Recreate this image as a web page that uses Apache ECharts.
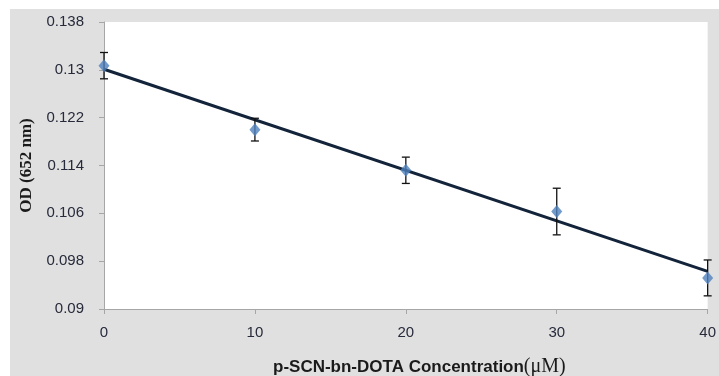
<!DOCTYPE html>
<html>
<head>
<meta charset="utf-8">
<script src="https://cdn.jsdelivr.net/npm/echarts@6/dist/echarts.min.js"></script>
<style>
html,body{margin:0;padding:0;background:#ffffff;width:719px;height:376px;overflow:hidden;}
#chart{position:absolute;left:10px;top:9px;width:709px;height:367px;}
</style>
</head>
<body>
<div id="chart"></div>
<script>
// Data
var concentrations = [0, 10, 20, 30, 40];          // µM
var odValues = [0.1307, 0.1200, 0.1132, 0.1063, 0.0952];
var odErrors = [0.0022, 0.0019, 0.0022, 0.0039, 0.0030];
var trendX = [0, 40];
var trendY = [0.1301, 0.0963];
var xTitle = 'p-SCN-bn-DOTA Concentration';
var xTitleUnit = '(\u03bcM)';
var yTitle = 'OD (652 nm)';

var points = concentrations.map(function (c, i) { return [c, odValues[i]]; });
var errRows = concentrations.map(function (c, i) { return [c, odValues[i] - odErrors[i], odValues[i] + odErrors[i]]; });
var trend = trendX.map(function (x, i) { return [x, trendY[i]]; });

var chart = echarts.init(document.getElementById('chart'), null, {renderer: 'canvas'});
var labelColor = '#262a3a';
var axisColor = '#a6a6a6';

chart.setOption({
  animation: false,
  backgroundColor: '#e0e0e0',
  grid: {
    left: 94, right: 7, top: 13, bottom: 67,
    show: true, backgroundColor: '#ffffff', borderWidth: 0
  },
  xAxis: {
    type: 'value', min: 0, max: 40, interval: 10,
    axisLine: {lineStyle: {color: axisColor, width: 1}},
    axisTick: {show: true, length: 5, lineStyle: {color: axisColor}},
    splitLine: {show: false},
    axisLabel: {color: labelColor, fontFamily: 'Liberation Sans', fontSize: 15, margin: 16}
  },
  yAxis: {
    type: 'value', min: 0.09, max: 0.138, interval: 0.008,
    axisLine: {show: true, lineStyle: {color: axisColor, width: 1}},
    axisTick: {show: true, length: 5, lineStyle: {color: axisColor}},
    splitLine: {show: false},
    axisLabel: {
      color: labelColor, fontFamily: 'Liberation Sans', fontSize: 15, margin: 20,
      formatter: function (v) { return String(parseFloat(v.toFixed(3))); }
    },
    name: yTitle, nameLocation: 'middle', nameRotate: 90, nameGap: 67,
    nameTextStyle: {fontFamily: 'Liberation Serif', fontWeight: 'bold', fontSize: 17, color: '#1a1a1a'}
  },
  graphic: [{
    type: 'text',
    left: 263, top: 348,
    style: {
      text: '{a|' + xTitle + '}{b|' + xTitleUnit + '}',
      rich: {
        a: {fontFamily: 'Liberation Sans', fontWeight: 'bold', fontSize: 17, fill: '#1a1a1a'},
        b: {fontFamily: 'Liberation Serif', fontSize: 20, fill: '#1a1a1a'}
      }
    }
  }],
  series: [
    {
      type: 'line', data: trend, showSymbol: false, symbol: 'none',
      lineStyle: {color: '#13243a', width: 3}, z: 2, silent: true
    },
    {
      type: 'custom', data: errRows, clip: false, z: 3,
      renderItem: function (params, api) {
        var x = api.value(0);
        var lo = api.coord([x, api.value(1)]);
        var hi = api.coord([x, api.value(2)]);
        var cw = 4;
        var st = {stroke: '#111111', lineWidth: 1.3};
        return {
          type: 'group',
          children: [
            {type: 'line', shape: {x1: lo[0], y1: lo[1], x2: hi[0], y2: hi[1]}, style: st},
            {type: 'line', shape: {x1: hi[0] - cw, y1: hi[1], x2: hi[0] + cw, y2: hi[1]}, style: st},
            {type: 'line', shape: {x1: lo[0] - cw, y1: lo[1], x2: lo[0] + cw, y2: lo[1]}, style: st}
          ]
        };
      }
    },
    {
      type: 'scatter', data: points, symbol: 'diamond', symbolSize: [11, 13],
      itemStyle: {color: '#4f81bd'}, clip: false, z: 4
    }
  ]
});
</script>
</body>
</html>
